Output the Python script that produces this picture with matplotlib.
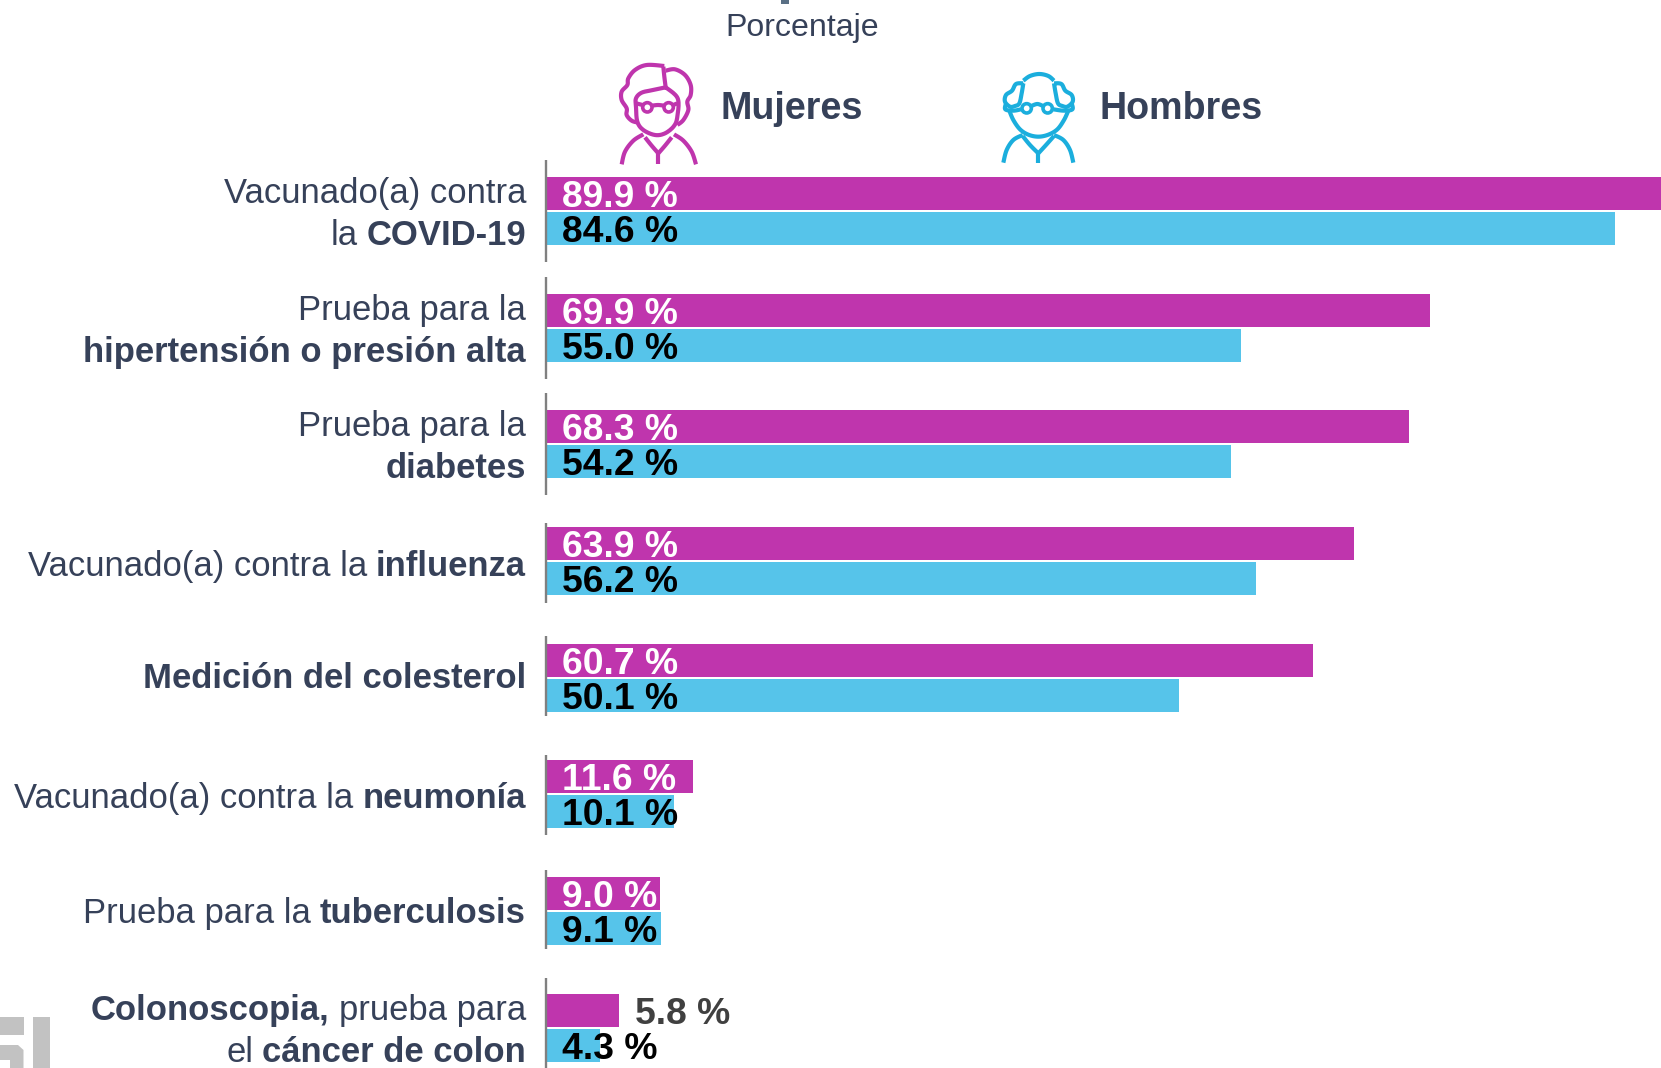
import numpy as np
import matplotlib
matplotlib.use('Agg')
import matplotlib.pyplot as plt
from matplotlib.patches import Polygon, Circle, Rectangle

plt.rcParams['font.family'] = ['Liberation Sans', 'DejaVu Sans']

# values
mujeres = [89.9, 69.9, 68.3, 63.9, 60.7, 11.6, 9.0, 5.8]
hombres = [84.6, 55.0, 54.2, 56.2, 50.1, 10.1, 9.1, 4.3]

# each row = lines, each line = runs of (text, bold)
row_labels = [
    [[("Vacunado(a) contra", False)], [("la ", False), ("COVID-19", True)]],
    [[("Prueba para la", False)], [("hipertensión o presión alta", True)]],
    [[("Prueba para la", False)], [("diabetes", True)]],
    [[("Vacunado(a) contra la ", False), ("influenza", True)]],
    [[("Medición del colesterol", True)]],
    [[("Vacunado(a) contra la ", False), ("neumonía", True)]],
    [[("Prueba para la ", False), ("tuberculosis", True)]],
    [[("Colonoscopia,", True), (" prueba para", False)], [("el ", False), ("cáncer de colon", True)]],
]

C_MUJER = '#BF35AD'
C_HOMBRE = '#56C4EA'
C_ICON_H = '#1BAEDD'
C_TEXT = '#364159'

W, H = 1661, 1068
X0 = 546           # px of the zero line
PX_PER_UNIT = 12.64
ROW0 = 211         # px centre of first row
ROW_STEP = 116.65
BAR_H = 33

fig = plt.figure(figsize=(W / 100, H / 100), dpi=100)

# bars
ax = fig.add_axes([X0 / W, 0, 1 - X0 / W, (H - 150) / H])
ax.set_xlim(0, (W - X0) / PX_PER_UNIT)
ax.set_ylim((H - ROW0) / ROW_STEP, (150 - ROW0) / ROW_STEP)
ax.axis('off')
ypos = np.arange(len(mujeres))
off = 17.5 / ROW_STEP
ax.barh(ypos - off, mujeres, height=BAR_H / ROW_STEP, color=C_MUJER)
ax.barh(ypos + off, hombres, height=BAR_H / ROW_STEP, color=C_HOMBRE)

# value labels
lab_x = 16 / PX_PER_UNIT
for i in ypos:
    if mujeres[i] > 8:
        ax.text(lab_x, i - off + 4 / ROW_STEP, f"{mujeres[i]:.1f} %", color='white', fontsize=26.8,
                fontweight='bold', va='center', ha='left', clip_on=False)
    else:
        ax.text(mujeres[i] + 1.25, i - off + 4.5 / ROW_STEP, f"{mujeres[i]:.1f} %", color='#404040', fontsize=26.8,
                fontweight='bold', va='center', ha='left', clip_on=False)
    ax.text(lab_x, i + off + 4 / ROW_STEP, f"{hombres[i]:.1f} %", color='black', fontsize=26.8,
            fontweight='bold', va='center', ha='left', clip_on=False)

# overlay in pixel coordinates for everything that is not a bar
ov = fig.add_axes([0, 0, 1, 1], facecolor='none')
ov.set_xlim(0, W)
ov.set_ylim(H, 0)
ov.axis('off')

# axis line pieces beside each row
axis_up = [51, 51, 51, 38, 42, 39, 41, 50]
axis_down = [51, 51, 51, 42, 38, 41, 38, 41]
for i in ypos:
    c = ROW0 + i * ROW_STEP
    ov.plot([545.5, 545.5], [c - axis_up[i], c + axis_down[i]], color='#808080', lw=1.7, solid_capstyle='butt')

# row labels, right aligned, runs placed from the right
fig.canvas.draw()
rend = fig.canvas.get_renderer()
two_line = [-8, 34]
one_line = {3: 15, 4: 10, 5: 14, 6: 12}
LAB_RIGHT = 526
for i, lines in enumerate(row_labels):
    c = ROW0 + i * ROW_STEP
    for j, runs in enumerate(lines):
        base = c + (two_line[j] if len(lines) == 2 else one_line[i])
        x = LAB_RIGHT
        for txt, bold in reversed(runs):
            # spaces at the ends of a run are not measured, so swap them for a gap
            stripped = txt.strip()
            gap_r = 9 if txt.endswith(' ') else 0
            gap_l = 9 if txt.startswith(' ') else 0
            x -= gap_r
            t = ov.text(x, base, stripped, fontsize=24.9, color=C_TEXT, ha='right', va='baseline',
                        fontweight='bold' if bold else 'normal')
            x -= t.get_window_extent(rend).width + gap_l

# header
ov.text(802, 28, "Porcentaje", fontsize=23.1, color=C_TEXT, ha='center', va='center')
ov.text(720.5, 109, "Mujeres", fontsize=27.2, color=C_TEXT, fontweight='bold', ha='left', va='center')
ov.text(1099, 109, "Hombres", fontsize=27.1, color=C_TEXT, fontweight='bold', ha='left', va='center')
ov.add_patch(Rectangle((781, 0), 8, 3.5, color='#5A7085', lw=0))  # cut off title letter


def smooth(pts, n=12):
    # catmull-rom through the points
    pts = np.array(pts, dtype=float)
    p = np.vstack([pts[0], pts, pts[-1]])
    out = []
    for k in range(1, len(p) - 2):
        for t in np.linspace(0, 1, n, endpoint=False):
            out.append(0.5 * (2 * p[k] + (p[k + 1] - p[k - 1]) * t
                              + (2 * p[k - 1] - 5 * p[k] + 4 * p[k + 1] - p[k + 2]) * t ** 2
                              + (3 * p[k] - p[k - 1] - 3 * p[k + 1] + p[k + 2]) * t ** 3))
    out.append(pts[-1])
    return np.array(out)


def icon(strokes, circles, ox, oy, color):
    # icon outlines traced on a 3x crop
    for s in strokes:
        q = smooth(s) / 3 + [ox, oy]
        ov.plot(q[:, 0], q[:, 1], color=color, lw=3.0, solid_capstyle='butt', solid_joinstyle='round')
    for cx, cy, r in circles:
        ov.add_patch(Circle((ox + cx / 3, oy + cy / 3), r / 3, fill=False, ec=color, lw=2.6))


woman = [
    [(193, 48), (140, 45), (105, 60), (85, 85), (82, 105), (65, 125), (65, 150), (80, 175), (80, 195), (95, 212), (115, 218)],
    [(190, 50), (193, 80), (197, 112)],
    [(197, 62), (225, 58), (255, 75), (272, 105), (272, 135), (262, 155), (265, 180), (250, 210), (232, 225)],
    [(197, 112), (160, 120), (125, 128), (108, 145), (108, 170), (112, 215), (130, 240), (165, 255), (195, 250),
     (222, 228), (232, 200), (233, 145), (197, 112)],
    [(156, 167), (174, 165), (192, 167)],
    [(128, 165), (108, 160)],
    [(220, 165), (232, 160)],
    [(65, 343), (75, 305), (100, 272), (130, 253)],
    [(288, 343), (275, 305), (250, 272), (222, 253)],
    [(135, 262), (155, 287), (175, 310)],
    [(215, 262), (195, 287), (175, 310)],
    [(175, 310), (175, 343)],
]
woman_glasses = [(142, 172, 14), (206, 172, 14)]
icon(woman, woman_glasses, 600, 50, C_MUJER)

man = [
    # bald top
    [(100, 62), (120, 48), (148, 42), (175, 48), (192, 62)],
    # left tuft
    [(100, 70), (78, 72), (66, 92), (48, 105), (45, 125), (60, 140), (75, 138), (88, 130), (95, 100), (100, 70)],
    [(48, 130), (46, 148), (70, 152), (93, 148)],
    # right tuft
    [(192, 70), (214, 72), (226, 92), (245, 105), (248, 125), (232, 140), (217, 138), (204, 130), (197, 100), (192, 70)],
    [(245, 130), (247, 148), (222, 152), (190, 148)],
    # face
    [(58, 152), (70, 180), (90, 208), (115, 224), (145, 230), (175, 224), (202, 208), (222, 180), (235, 152)],
    [(124, 138), (142, 132), (159, 138)],
    [(40, 308), (50, 270), (70, 240), (98, 225)],
    [(250, 308), (240, 270), (220, 240), (192, 225)],
    [(98, 228), (120, 255), (145, 280)],
    [(192, 228), (168, 255), (145, 280)],
    [(145, 280), (145, 308)],
]
man_glasses = [(110, 145, 14), (173, 145, 14)]
icon(man, man_glasses, 990, 60, C_ICON_H)

# piece of the logo cut by the bottom left corner
ov.add_patch(Rectangle((0, 1017), 23.5, 17.5, color='#C2C2C2', lw=0))
ov.add_patch(Rectangle((33, 1017), 17, 51, color='#C2C2C2', lw=0))
ov.add_patch(Polygon([(0, 1045), (18, 1045), (23.5, 1050), (23.5, 1068), (10, 1068), (10, 1060), (0, 1060)],
                     closed=True, color='#C2C2C2', lw=0))

fig.savefig('out.png', dpi=100)
